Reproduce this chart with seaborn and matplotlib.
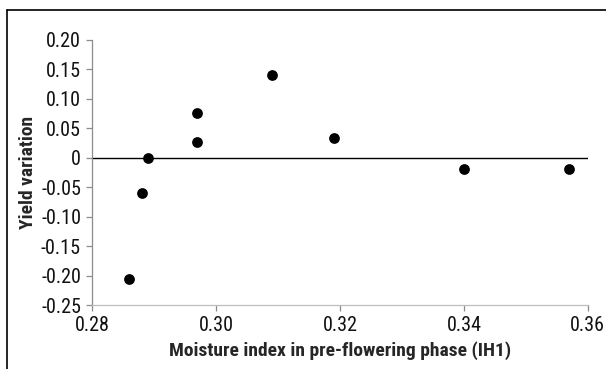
import matplotlib
matplotlib.use("Agg")
import matplotlib.pyplot as plt
import seaborn as sns
import pandas as pd
from matplotlib.lines import Line2D

# dados
moisture_index = [0.286, 0.288, 0.289, 0.297, 0.297, 0.309, 0.319, 0.340, 0.357]
yield_variation = [-0.206, -0.060, 0.000, 0.076, 0.027, 0.140, 0.033, -0.019, -0.019]
x_ticks = [0.28, 0.30, 0.32, 0.34, 0.36]
y_ticks = [0.20, 0.15, 0.10, 0.05, 0.0, -0.05, -0.10, -0.15, -0.20, -0.25]
y_labels = ["0.20", "0.15", "0.10", "0.05", "0", "-0.05", "-0.10", "-0.15", "-0.20", "-0.25"]

df = pd.DataFrame({"x": moisture_index, "y": yield_variation})

sns.set_style("white")
plt.rcParams["font.family"] = ["Roboto Condensed", "DejaVu Sans"]

fig = plt.figure(figsize=(6.06, 3.69), dpi=100)
ax = fig.add_axes([0.152, 0.173, 0.818, 0.719])

sns.scatterplot(data=df, x="x", y="y", ax=ax, color="black", s=60, edgecolor="black", linewidth=0, zorder=3)
ax.axhline(0, color="black", lw=1.0, zorder=2)

ax.set_xlim(0.28, 0.36)
ax.set_ylim(-0.25, 0.20)
ax.set_xticks(x_ticks)
ax.set_xticklabels([f"{v:.2f}" for v in x_ticks])
ax.set_yticks(y_ticks)
ax.set_yticklabels(y_labels)

for s in ["top", "right"]:
    ax.spines[s].set_visible(False)
ax.spines["left"].set_color("#8c8c8c")
ax.spines["bottom"].set_color("#bdbdbd")
ax.spines["left"].set_linewidth(0.9)
ax.spines["bottom"].set_linewidth(0.9)
ax.tick_params(axis="both", direction="out", length=4, width=0.9, color="#8c8c8c",
               labelsize=14.5, pad=4, left=True, bottom=True, labelcolor="#111111")

ax.set_xlabel("Moisture index in pre-flowering phase (IH1)", fontsize=14, fontweight="bold", labelpad=4)
ax.set_ylabel("Yield variation", fontsize=14, fontweight="bold", labelpad=3)

# moldura
fig.add_artist(Line2D([7 / 606, 7 / 606], [0, 1 - 10 / 369], transform=fig.transFigure, color="black", lw=1.2))
fig.add_artist(Line2D([7 / 606, 1], [1 - 10 / 369, 1 - 10 / 369], transform=fig.transFigure, color="black", lw=1.2))

fig.savefig("out.png", dpi=100)
plt.close(fig)
